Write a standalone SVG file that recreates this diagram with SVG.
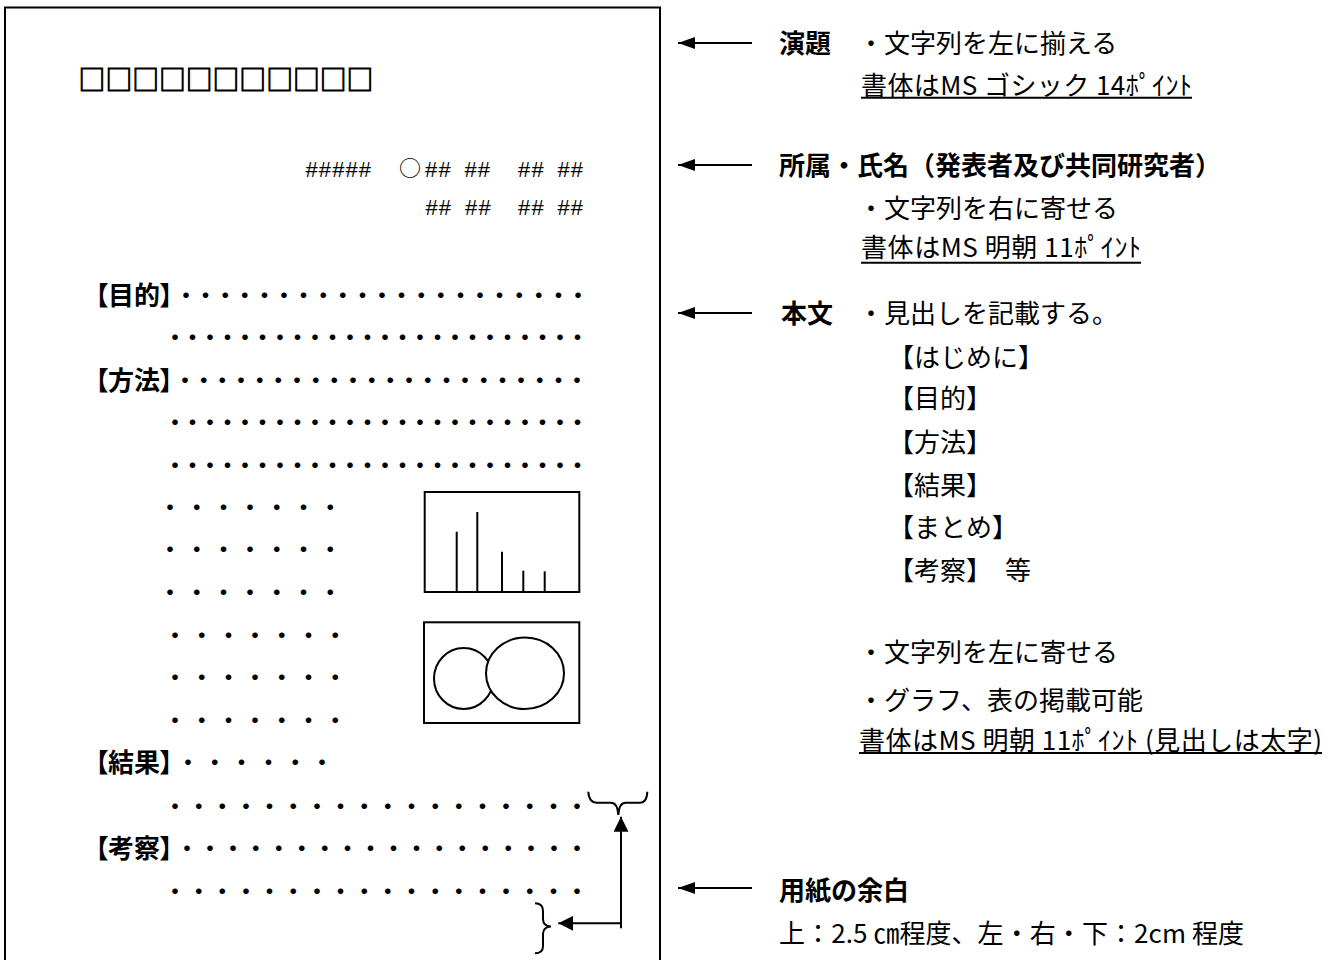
<svg xmlns="http://www.w3.org/2000/svg" width="1330" height="960" viewBox="0 0 1330 960">
<style>
  text { fill: #000; }
  .cjk { font-family: "Noto Sans CJK JP", "Liberation Sans", sans-serif; }
  .lbl { font-family: "Noto Sans CJK JP", sans-serif; font-weight: bold; font-size: 26px; }
  .txt { font-family: "Noto Sans CJK JP", "Liberation Serif", sans-serif; font-size: 26px; }
  .head { font-family: "Noto Sans CJK JP", sans-serif; font-weight: bold; font-size: 26px; font-feature-settings: "palt" 1; }
  .dots { font-family: "Noto Sans CJK JP", sans-serif; font-weight: bold; font-size: 22px; }
  .hash { font-family: "Liberation Mono", "DejaVu Sans Mono", monospace; font-size: 22.2px; }
  .sq { font-family: "Noto Sans CJK JP", sans-serif; font-size: 26.8px; stroke: #000; stroke-width: 0.9; }
  .ln { stroke: #000; stroke-width: 2; fill: none; }
  .ul { stroke: #000; stroke-width: 2; }
  .conn { stroke: #000; stroke-width: 2; fill: none; }
</style>
<defs>
  <marker id="ah" markerUnits="userSpaceOnUse" markerWidth="17" markerHeight="12" refX="17" refY="6" orient="auto">
    <path d="M0,0 L17,6 L0,12 z" fill="#000"/>
  </marker>
  <marker id="ah2" markerUnits="userSpaceOnUse" markerWidth="15" markerHeight="15" refX="15" refY="7.5" orient="auto">
    <path d="M0,0 L15,7.5 L0,15 z" fill="#000"/>
  </marker>
</defs>
<rect width="1330" height="960" fill="#fff"/>

<g id="page">
  <path class="ln" d="M5,960 L5,7.5 L660,7.5 L660,960"/>
</g>

<g id="title">
  <text class="sq" x="78.6" y="90">□□□□□□□□□□□</text>
</g>

<g id="authors">
  <text class="hash" y="177"><tspan x="305">#####</tspan><tspan x="424.6">##</tspan><tspan x="464">##</tspan><tspan x="517.6">##</tspan><tspan x="557">##</tspan></text>
  <text class="cjk" x="399" y="176" font-size="22">○</text>
  <text class="hash" y="215"><tspan x="425">##</tspan><tspan x="464.6">##</tspan><tspan x="517.6">##</tspan><tspan x="557">##</tspan></text>
</g>

<g id="body">
  <text class="head" x="95" y="304.5">【目的】</text>
  <text class="dots" x="175" y="303.4" letter-spacing="-2.4">・・・・・・・・・・・・・・・・・・・・・</text>
  <text class="dots" x="164" y="345.4" letter-spacing="-4.5">・・・・・・・・・・・・・・・・・・・・・・・・</text>
  <text class="head" x="95" y="389.5">【方法】</text>
  <text class="dots" x="174" y="388.4" letter-spacing="-3.33">・・・・・・・・・・・・・・・・・・・・・・</text>
  <text class="dots" x="164" y="430.4" letter-spacing="-4.5">・・・・・・・・・・・・・・・・・・・・・・・・</text>
  <text class="dots" x="164" y="473.4" letter-spacing="-4.5">・・・・・・・・・・・・・・・・・・・・・・・・</text>
  <text class="dots" x="159" y="515.4" letter-spacing="4.7">・・・・・・・</text>
  <text class="dots" x="159" y="557.4" letter-spacing="4.7">・・・・・・・</text>
  <text class="dots" x="159" y="600.4" letter-spacing="4.7">・・・・・・・</text>
  <text class="dots" x="164" y="643.4" letter-spacing="4.7">・・・・・・・</text>
  <text class="dots" x="164" y="685.4" letter-spacing="4.7">・・・・・・・</text>
  <text class="dots" x="164" y="728.4" letter-spacing="4.7">・・・・・・・</text>
  <text class="head" x="95" y="771.5">【結果】</text>
  <text class="dots" x="177" y="770.4" letter-spacing="4.8">・・・・・・</text>
  <text class="dots" x="164" y="814.4" letter-spacing="1.65">・・・・・・・・・・・・・・・・・・</text>
  <text class="head" x="95" y="857.5">【考察】</text>
  <text class="dots" x="176" y="856.4" letter-spacing="0.94">・・・・・・・・・・・・・・・・・・</text>
  <text class="dots" x="164" y="899.4" letter-spacing="1.65">・・・・・・・・・・・・・・・・・・</text>
</g>

<g id="chart-bar">
  <rect class="ln" x="424.7" y="492" width="154.6" height="100"/>
  <line class="ln" x1="456.7" y1="531.7" x2="456.7" y2="592"/>
  <line class="ln" x1="477.3" y1="512" x2="477.3" y2="592"/>
  <line class="ln" x1="502" y1="551.7" x2="502" y2="592"/>
  <line class="ln" x1="523.3" y1="570.7" x2="523.3" y2="592"/>
  <line class="ln" x1="544.7" y1="571.3" x2="544.7" y2="592"/>
</g>

<g id="chart-venn">
  <rect class="ln" x="424" y="622.3" width="155.3" height="100.7"/>
  <ellipse class="ln" cx="463.7" cy="678.5" rx="29.7" ry="30.5"/>
  <ellipse cx="525" cy="673.3" rx="39" ry="35.7" fill="#fff" stroke="#000" stroke-width="2"/>
</g>

<g id="braces">
  <path class="ln" d="M588.3,791.7 Q589,802.7 597,802.7 L611,802.7 Q617.5,802.7 618.3,815 Q619.1,802.7 625.6,802.7 L639.6,802.7 Q647,802.7 647.3,791.7"/>
  <path class="ln" d="M535,903.3 Q543,903.3 543,911 L543,919 Q543,926 551,926.5 Q543,927 543,934 L543,946 Q543,953.3 535,953.3"/>
</g>

<g id="connectors">
  <line class="conn" x1="752" y1="43" x2="678" y2="43" marker-end="url(#ah)"/>
  <line class="conn" x1="752" y1="165" x2="678" y2="165" marker-end="url(#ah)"/>
  <line class="conn" x1="752" y1="313" x2="678" y2="313" marker-end="url(#ah)"/>
  <line class="conn" x1="752" y1="888" x2="678" y2="888" marker-end="url(#ah)"/>
  <line class="conn" x1="621" y1="928.3" x2="621" y2="816.7" marker-end="url(#ah2)"/>
  <line class="conn" x1="621" y1="923.3" x2="558.3" y2="923.3" marker-end="url(#ah2)"/>
</g>

<g id="note-title">
  <text class="lbl" x="779" y="53">演題</text>
  <text class="txt" x="858" y="53">・文字列を左に揃える</text>
  <text class="txt" x="861" y="95" textLength="331">書体はMS ゴシック 14ﾎﾟｲﾝﾄ</text>
  <line class="ul" x1="861" y1="97.7" x2="1192" y2="97.7"/>
</g>

<g id="note-author">
  <text class="lbl" x="779" y="175">所属・氏名（発表者及び共同研究者）</text>
  <text class="txt" x="858" y="218">・文字列を右に寄せる</text>
  <text class="txt" x="861" y="257" textLength="280">書体はMS 明朝 11ﾎﾟｲﾝﾄ</text>
  <line class="ul" x1="861" y1="262.7" x2="1141" y2="262.7"/>
</g>

<g id="note-body">
  <text class="lbl" x="781" y="323">本文</text>
  <text class="txt" x="858" y="323">・見出しを記載する。</text>
  <text class="txt" x="888" y="367">【はじめに】</text>
  <text class="txt" x="888" y="408">【目的】</text>
  <text class="txt" x="888" y="452">【方法】</text>
  <text class="txt" x="888" y="495">【結果】</text>
  <text class="txt" x="888" y="537">【まとめ】</text>
  <text class="txt" x="888" y="580">【考察】　等</text>
  <text class="txt" x="858" y="662">・文字列を左に寄せる</text>
  <text class="txt" x="858" y="710">・グラフ、表の掲載可能</text>
  <text class="txt" x="859" y="750" textLength="463">書体はMS 明朝 11ﾎﾟｲﾝﾄ (見出しは太字)</text>
  <line class="ul" x1="859" y1="753" x2="1322" y2="753"/>
</g>

<g id="note-margin">
  <text class="lbl" x="779" y="900">用紙の余白</text>
  <text class="txt" x="779" y="943" textLength="465">上：2.5 ㎝程度、左・右・下：2cm 程度</text>
</g>
</svg>
